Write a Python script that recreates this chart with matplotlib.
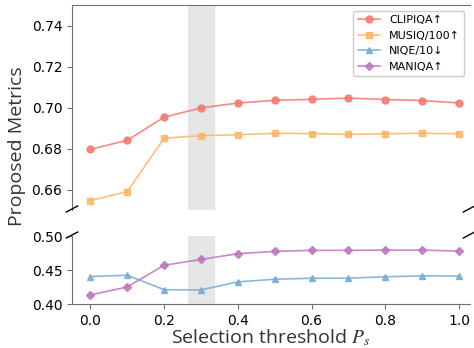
import matplotlib
matplotlib.use('Agg')
import matplotlib.pyplot as plt

plt.rcParams['mathtext.fontset'] = 'stix'

# Dados
thresholds = [0.0, 0.1, 0.2, 0.3, 0.4, 0.5, 0.6, 0.7, 0.8, 0.9, 1.0]
clipiqa = [0.6796, 0.6840, 0.6953, 0.6998, 0.7022, 0.7035, 0.7040, 0.7046, 0.7039, 0.7034, 0.7022]
musiq = [0.6546, 0.6590, 0.6850, 0.6863, 0.6867, 0.6874, 0.6873, 0.6869, 0.6872, 0.6874, 0.6872]
niqe = [0.4404, 0.4423, 0.4210, 0.4207, 0.4325, 0.4364, 0.4379, 0.4379, 0.4400, 0.4414, 0.4412]
maniqa = [0.4133, 0.4251, 0.4570, 0.4655, 0.4740, 0.4774, 0.4789, 0.4789, 0.4793, 0.4793, 0.4778]
labels = ['CLIPIQA↑', 'MUSIQ/100↑', 'NIQE/10↓', 'MANIQA↑']

cores = ['#f8766d', '#ffb464', '#74aad4', '#bd74bd']

fig = plt.figure(figsize=(4.74, 3.48), dpi=100)
ax_top = fig.add_axes([72/474, 1 - 210/348, 398/474, 205/348])
ax_bot = fig.add_axes([72/474, 1 - 304/348, 398/474, 68/348])

for ax in (ax_top, ax_bot):
    ax.axvspan(0.265, 0.335, color='#e6e6e6', zorder=0)
    ax.set_xlim(-0.05, 1.03)
    for s in ax.spines.values():
        s.set_color('#707070')
    ax.spines['right'].set_visible(False)
    ax.tick_params(labelsize=10, color='#707070')

kw = dict(linewidth=1.2, markersize=5, alpha=0.85)
ax_top.plot(thresholds, clipiqa, marker='o', color=cores[0], label=labels[0], **kw)
ax_top.plot(thresholds, musiq, marker='s', color=cores[1], label=labels[1], **kw)
ax_top.plot([], [], marker='^', color=cores[2], label=labels[2], **kw)
ax_top.plot([], [], marker='D', color=cores[3], label=labels[3], markersize=4.5, linewidth=1.2, alpha=0.85)
ax_bot.plot(thresholds, niqe, marker='^', color=cores[2], **kw)
ax_bot.plot(thresholds, maniqa, marker='D', color=cores[3], markersize=4.5, linewidth=1.2, alpha=0.85)

ax_top.set_ylim(0.65, 0.75)
ax_top.set_yticks([0.66, 0.68, 0.70, 0.72, 0.74])
ax_top.spines['bottom'].set_visible(False)
ax_top.tick_params(bottom=False, labelbottom=False)

ax_bot.set_ylim(0.40, 0.50)
ax_bot.set_yticks([0.40, 0.45, 0.50])
ax_bot.spines['top'].set_visible(False)
ax_bot.set_xticks([0.0, 0.2, 0.4, 0.6, 0.8, 1.0])

# Marcas de quebra
d = 0.012
kwb = dict(transform=fig.transFigure, color='k', clip_on=False, linewidth=1)
for xb in (72/474, 469/474):
    fig.add_artist(plt.Line2D([xb - d, xb + d], [1 - 212/348, 1 - 206/348], **kwb))
    fig.add_artist(plt.Line2D([xb - d, xb + d], [1 - 238/348, 1 - 232/348], **kwb))

ax_top.legend(loc='upper right', fontsize=8, framealpha=1, edgecolor='#cccccc')

fig.text(0.036, 0.58, 'Proposed Metrics', rotation=90, va='center', ha='center',
         fontsize=14, family='Open Sans', color='#333333')
ax_bot.set_xlabel('Selection threshold $P_s$', fontsize=14, family='Open Sans', color='#333333', labelpad=0)

plt.savefig('out.png', dpi=100)
